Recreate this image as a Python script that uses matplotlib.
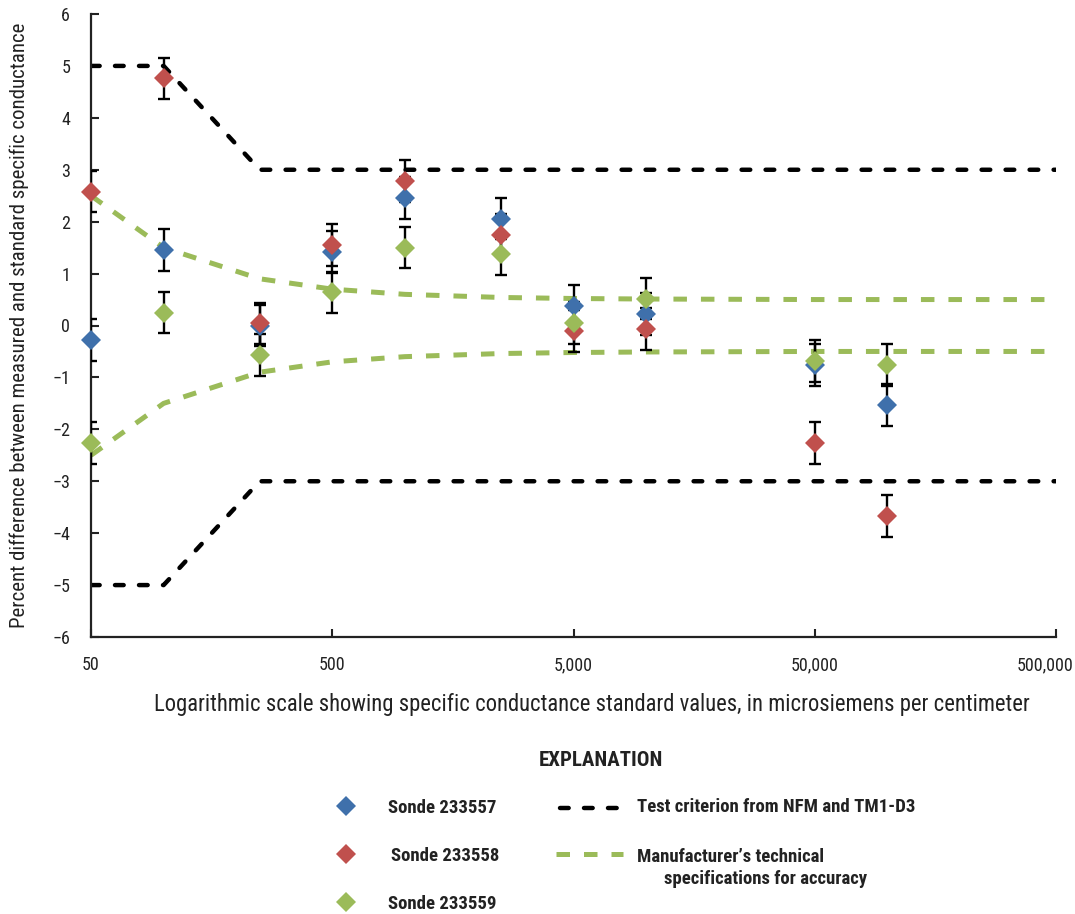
import matplotlib
matplotlib.use("Agg")
import matplotlib.pyplot as plt
from matplotlib.lines import Line2D
from matplotlib.ticker import FixedLocator, FixedFormatter, NullLocator
from matplotlib.transforms import ScaledTranslation

plt.rcParams["font.family"] = ["Roboto Condensed", "DejaVu Sans"]

# standard values, microsiemens per centimeter
standards = [50, 100, 250, 500, 1000, 2500, 5000, 10000, 50000, 100000]
sonde_557 = [-0.28, 1.45, 0.0, 1.42, 2.46, 2.06, 0.38, 0.22, -0.76, -1.53]
sonde_558 = [2.58, 4.76, 0.04, 1.55, 2.78, 1.74, -0.11, -0.07, -2.26, -3.67]
sonde_559 = [-2.26, 0.25, -0.57, 0.64, 1.50, 1.38, 0.05, 0.52, -0.68, -0.76]
err = 0.4

# test criterion (NFM / TM1-D3)
crit_x = [50, 100, 250, 500000]
crit_hi = [5, 5, 3, 3]
crit_lo = [-5, -5, -3, -3]

# manufacturer's accuracy spec
spec_x = [50, 100, 250, 500, 1000, 2500, 5000, 10000, 50000, 100000, 500000]
spec_hi = [2.5, 1.5, 0.9, 0.7, 0.6, 0.54, 0.52, 0.51, 0.5, 0.5, 0.5]
spec_lo = [-2.5, -1.5, -0.9, -0.7, -0.6, -0.54, -0.52, -0.51, -0.5, -0.5, -0.5]

xticks = [50, 500, 5000, 50000, 500000]
xtick_labels = ["50", "500", "5,000", "50,000", "500,000"]
yticks = list(range(-6, 7))

BLUE = "#3F70AB"
RED = "#C0504D"
GREEN = "#9BBB59"
W, H = 1075, 914

fig = plt.figure(figsize=(W / 100, H / 100), dpi=100)
ax = fig.add_axes([91 / W, 1 - 637 / H, 965 / W, 623 / H])
ax.set_xscale("log")

black_kw = dict(color="black", lw=3.2, dash_capstyle="round", dashes=(1.95, 3.45))
green_kw = dict(color=GREEN, lw=3.6, dash_capstyle="butt", dashes=(2.7, 2.8))
ax.plot(crit_x, crit_hi, zorder=2, **black_kw)
ax.plot(crit_x, crit_lo, zorder=2, **black_kw)
ax.plot(spec_x, spec_hi, zorder=2, **green_kw)
ax.plot(spec_x, spec_lo, zorder=2, **green_kw)

for vals in [sonde_557, sonde_558, sonde_559]:
    ax.errorbar(standards, vals, yerr=err, fmt="none", ecolor="black",
                elinewidth=1.7, capsize=4, capthick=1.7, zorder=3)
for vals, col in [(sonde_557, BLUE), (sonde_558, RED), (sonde_559, GREEN)]:
    ax.plot(standards, vals, ls="none", marker="D", ms=9.8, color=col,
            markeredgewidth=0, zorder=4, clip_on=False)

ax.set_xlim(50, 500000)
ax.set_ylim(-6, 6)
ax.xaxis.set_major_locator(FixedLocator(xticks))
ax.xaxis.set_major_formatter(FixedFormatter(xtick_labels))
ax.xaxis.set_minor_locator(NullLocator())
ax.set_yticks(yticks)
ax.set_yticklabels([str(v).replace("-", "\u2212") for v in yticks])
for s in ["top", "right"]:
    ax.spines[s].set_visible(False)
for s in ["left", "bottom"]:
    ax.spines[s].set_linewidth(1.6)
    ax.spines[s].set_color("#222222")
ax.tick_params(axis="both", direction="in", length=6, width=1.5, labelsize=13, color="#222222",
               labelcolor="#222222")
ax.tick_params(axis="x", pad=14)
ax.tick_params(axis="y", pad=15)
last = ax.get_xticklabels()[-1]
last.set_transform(last.get_transform() + ScaledTranslation(-0.11, 0, fig.dpi_scale_trans))

ax.set_xlabel("Logarithmic scale showing specific conductance standard values, in microsiemens per centimeter",
              fontsize=16.3, color="#222222")
ax.xaxis.set_label_coords(501 / 965, -(705 - 637) / 623)
ax.xaxis.label.set_va("center")
ax.set_ylabel("Percent difference between measured and standard specific conductance",
              fontsize=15, color="#222222")
ax.yaxis.set_label_coords(-(91 - 19) / 965, 0.5)
ax.yaxis.label.set_va("center")

# explanation block
TXT = dict(ha="left", va="center", fontsize=13.5, fontweight="bold", color="#222222")
fig.text(601 / W, 1 - 761 / H, "EXPLANATION", ha="center", va="center", fontsize=15,
         fontweight="bold", color="#222222")
sondes = [("Sonde 233557", BLUE, 806, 388), ("Sonde 233558", RED, 854, 391), ("Sonde 233559", GREEN, 902, 388)]
for name, col, py, px in sondes:
    y = 1 - py / H
    fig.add_artist(Line2D([346 / W], [y], marker="D", ms=9.8, color=col, markeredgewidth=0,
                          transform=fig.transFigure))
    fig.text(px / W, 1 - (py + 2) / H, name, **TXT)

y1 = 1 - 808 / H
fig.add_artist(Line2D([560 / W, 622 / W], [y1, y1], transform=fig.transFigure, **black_kw))
fig.text(637 / W, 1 - 807 / H, "Test criterion from NFM and TM1-D3", **TXT)
y2 = 1 - 854 / H
fig.add_artist(Line2D([556 / W, 623 / W], [y2, y2], transform=fig.transFigure, **green_kw))
fig.text(637 / W, 1 - 857 / H, "Manufacturer\u2019s technical", **TXT)
fig.text(664 / W, 1 - 879 / H, "specifications for accuracy", **TXT)

fig.savefig("out.png", dpi=100)
